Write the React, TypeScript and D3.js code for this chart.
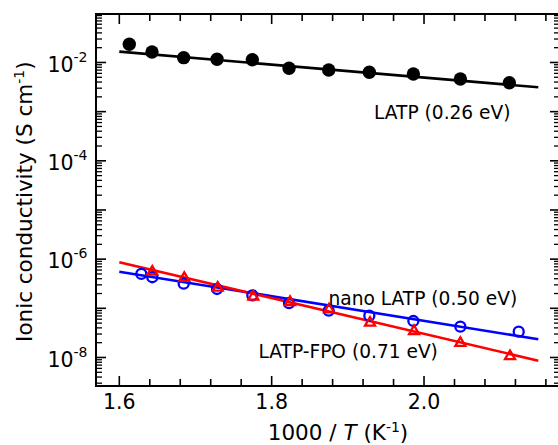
import React from 'react';
import * as d3 from 'd3';

// ---- data ----
const latpX = [1.6131, 1.6429, 1.6845, 1.7283, 1.7746, 1.8228, 1.8749, 1.9282, 1.986, 2.0477, 2.112];
const latpY = [0.02344, 0.01637, 0.01253, 0.01161, 0.0114, 0.00762, 0.00704, 0.00632, 0.00583, 0.00462, 0.00388];

const nanoX = [1.6289, 1.6433, 1.6845, 1.7283, 1.7746, 1.8228, 1.8749, 1.9282, 1.986, 2.0477, 2.1243];
const nanoY = [5.0e-7, 4.28e-7, 3.17e-7, 2.47e-7, 1.84e-7, 1.27e-7, 8.95e-8, 7.08e-8, 5.52e-8, 4.24e-8, 3.35e-8];

const fpoX = [1.6433, 1.6853, 1.7292, 1.7759, 1.8241, 1.8753, 1.9291, 1.9869, 2.0477, 2.1129];
const fpoY = [5.83e-7, 4.35e-7, 2.75e-7, 1.81e-7, 1.41e-7, 1.0e-7, 5.35e-8, 3.62e-8, 2.07e-8, 1.12e-8];

const fitX = [1.6, 2.15];
const latpFit = [0.0166, 0.00313];
const nanoFit = [5.56e-7, 2.34e-8];
const fpoFit = [8.65e-7, 8.61e-9];

const xMajor = [1.6, 1.8, 2.0];
const xTickLabels = ['1.6', '1.8', '2.0'];
const yLabelExps = [-2, -4, -6, -8];

const labelLATP = 'LATP (0.26 eV)';
const labelNano = 'nano LATP (0.50 eV)';
const labelFPO = 'LATP-FPO (0.71 eV)';

const W = 558;
const H = 445;
const L = 96, R = 560, T = 14, B = 386;
const FONT = '"DejaVu Sans", Verdana, sans-serif';

export default function App() {
  const x = d3.scaleLinear().domain([1.5694, 2.1785]).range([L, R]);
  const y = d3.scaleLog().domain([Math.pow(10, -8.58), Math.pow(10, -1.014)]).range([B, T]);

  const line = d3.line<[number, number]>().x(d => x(d[0])).y(d => y(d[1]));

  const xMinor = d3.range(1.56, 2.18, 0.04).filter(v => x(v) >= L && x(v) <= R && !xMajor.some(m => Math.abs(m - v) < 1e-6));
  const yMajor: number[] = [];
  const yMinor: number[] = [];
  for (let e = -9; e <= -1; e++) {
    for (let m = 1; m <= 9; m++) {
      const v = m * Math.pow(10, e);
      const py = y(v);
      if (py < T || py > B) continue;
      if (m === 1) yMajor.push(v); else yMinor.push(v);
    }
  }

  const tri = (cx: number, cy: number) => `M${cx},${cy - 4.6}L${cx + 5},${cy + 4}L${cx - 5},${cy + 4}Z`;

  const tickW = 1.6;
  return (
    <svg width={W} height={H} style={{ position: 'absolute', left: 0, top: 0, background: '#fff' }} fontFamily={FONT}>
      <rect x={0} y={0} width={W} height={H} fill="#fff" />
      {/* fit lines */}
      <path d={line(fitX.map((v, i) => [v, latpFit[i]]) as any) || ''} stroke="#000" strokeWidth={2.6} fill="none" />
      <path d={line(fitX.map((v, i) => [v, nanoFit[i]]) as any) || ''} stroke="#0000ff" strokeWidth={2.6} fill="none" />
      <path d={line(fitX.map((v, i) => [v, fpoFit[i]]) as any) || ''} stroke="#ff0000" strokeWidth={2.6} fill="none" />
      {/* markers */}
      {latpX.map((v, i) => (
        <circle key={'b' + i} cx={x(v)} cy={y(latpY[i])} r={6.7} fill="#000" />
      ))}
      {nanoX.map((v, i) => (
        <circle key={'n' + i} cx={x(v)} cy={y(nanoY[i])} r={5} fill="none" stroke="#0000ff" strokeWidth={2.3} />
      ))}
      {fpoX.map((v, i) => (
        <path key={'f' + i} d={tri(x(v), y(fpoY[i]))} fill="none" stroke="#ff0000" strokeWidth={2.3} strokeLinejoin="miter" />
      ))}
      {/* frame */}
      <rect x={L} y={T} width={R - L} height={B - T} fill="none" stroke="#000" strokeWidth={2} />
      {/* x ticks */}
      {xMajor.map((v, i) => (
        <g key={'xm' + i}>
          <line x1={x(v)} x2={x(v)} y1={B} y2={B - 10} stroke="#000" strokeWidth={tickW} />
          <line x1={x(v)} x2={x(v)} y1={T} y2={T + 10} stroke="#000" strokeWidth={tickW} />
          <text x={x(v)} y={408.5} textAnchor="middle" fontSize={20.5}>{xTickLabels[i]}</text>
        </g>
      ))}
      {xMinor.map((v, i) => (
        <g key={'xn' + i}>
          <line x1={x(v)} x2={x(v)} y1={B} y2={B - 7} stroke="#000" strokeWidth={tickW} />
          <line x1={x(v)} x2={x(v)} y1={T} y2={T + 7} stroke="#000" strokeWidth={tickW} />
        </g>
      ))}
      {/* y ticks */}
      {yMajor.map((v, i) => (
        <g key={'ym' + i}>
          <line x1={L} x2={L + 10} y1={y(v)} y2={y(v)} stroke="#000" strokeWidth={tickW} />
          <line x1={R} x2={R - 10} y1={y(v)} y2={y(v)} stroke="#000" strokeWidth={tickW} />
        </g>
      ))}
      {yMinor.map((v, i) => (
        <g key={'yn' + i}>
          <line x1={L} x2={L + 6} y1={y(v)} y2={y(v)} stroke="#000" strokeWidth={1.3} />
          <line x1={R} x2={R - 6} y1={y(v)} y2={y(v)} stroke="#000" strokeWidth={1.3} />
        </g>
      ))}
      {yLabelExps.map(e => (
        <text key={'yl' + e} x={87.5} y={y(Math.pow(10, e)) + 9.2} textAnchor="end" fontSize={20.5}>
          10<tspan dy={-10} fontSize={14}>{String(e)}</tspan>
        </text>
      ))}
      {/* axis titles */}
      <text x={338} y={440} textAnchor="middle" fontSize={21.5}>
        1000 / <tspan fontStyle="italic">T</tspan> (K<tspan dy={-8} fontSize={14}>-1</tspan><tspan dy={8}>)</tspan>
      </text>
      <text transform="translate(32,201.7) rotate(-90)" textAnchor="middle" fontSize={21.5}>
        Ionic conductivity (S cm<tspan dy={-8} fontSize={14}>-1</tspan><tspan dy={8}>)</tspan>
      </text>
      {/* annotations */}
      <text x={374} y={119} fontSize={18.6}>{labelLATP}</text>
      <text x={328.5} y={305} fontSize={18.6}>{labelNano}</text>
      <text x={258.5} y={358.3} fontSize={18.6}>{labelFPO}</text>
    </svg>
  );
}
